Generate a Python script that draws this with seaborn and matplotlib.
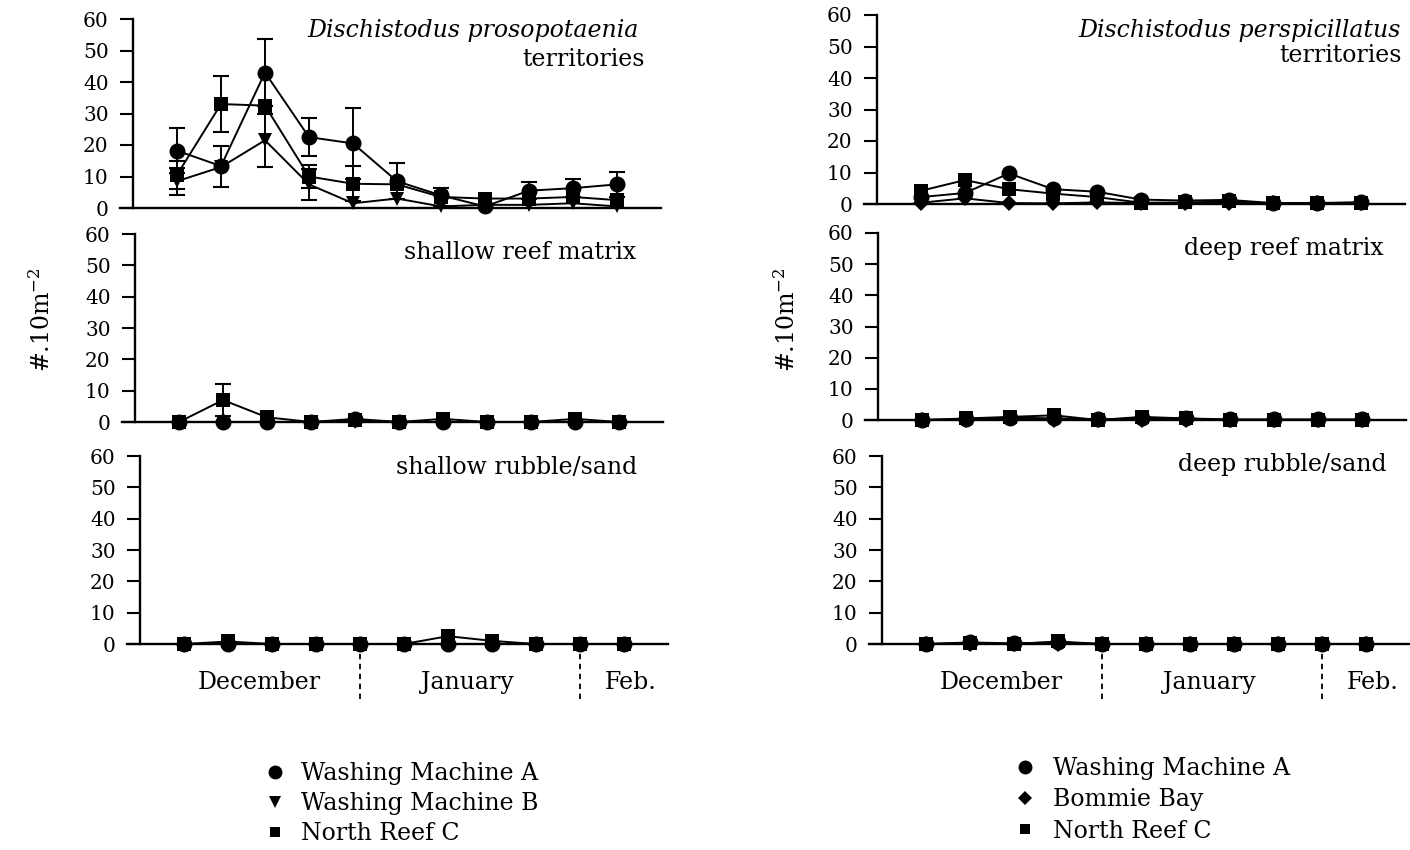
import numpy as np
import pandas as pd
import matplotlib
matplotlib.use("Agg")
import matplotlib.pyplot as plt
from matplotlib.lines import Line2D
import seaborn as sns

sns.set_theme(style="ticks")
plt.rcParams["font.family"] = ["DejaVu Serif"]
plt.rcParams["mathtext.fontset"] = "dejavuserif"
for key in ("text.color", "axes.labelcolor", "xtick.color", "ytick.color", "axes.edgecolor"):
    plt.rcParams[key] = "black"

# sampling occasions (roughly weekly, Dec - Feb)
days = list(range(1, 12))
month_names = ["December", "January", "Feb."]
month_breaks = [5, 10]

# ---- Dischistodus prosopotaenia (#.10m^-2, mean +/- SE) ----
pro_terr_wma = [18.2, 13.3, 43.0, 22.5, 20.5, 8.5, 4.0, 0.5, 5.5, 6.3, 7.5]
pro_terr_wma_se = [7.2, 6.5, 10.5, 6.0, 11.3, 5.8, 0.0, 0.0, 2.7, 2.8, 4.0]
pro_terr_wmb = [8.5, 13.0, 21.5, 7.5, 1.5, 3.0, 0.5, 1.0, 1.0, 1.5, 0.5]
pro_terr_wmb_se = [4.3, 0.0, 8.5, 5.0, 0.0, 0.0, 0.0, 0.0, 0.0, 0.0, 0.0]
pro_terr_nrc = [10.5, 33.0, 32.5, 10.0, 7.7, 7.5, 3.5, 3.0, 3.0, 3.5, 2.5]
pro_terr_nrc_se = [4.5, 8.8, 0.0, 3.5, 5.5, 0.0, 2.8, 0.0, 0.0, 0.0, 0.0]

pro_shreef_wma = [0, 0, 0, 0, 1.0, 0, 0, 0, 0, 0, 0]
pro_shreef_wmb = [0, 0, 0, 0, 0, 0, 0, 0, 0, 0, 0]
pro_shreef_nrc = [0, 7.0, 1.5, 0, 0.5, 0, 1.0, 0, 0, 1.0, 0]
pro_shreef_nrc_se = [0, 5.2, 0, 0, 0, 0, 0, 0, 0, 0, 0]

pro_shrub_wma = [0, 0, 0, 0, 0, 0, 0, 0, 0, 0, 0]
pro_shrub_wmb = [0, 0, 0, 0, 0, 0, 0, 0, 0, 0, 0]
pro_shrub_nrc = [0, 0.8, 0, 0, 0, 0, 2.5, 1.0, 0, 0, 0]

# ---- Dischistodus perspicillatus ----
per_terr_wma = [2.2, 3.5, 9.7, 4.7, 3.9, 1.4, 1.1, 1.3, 0.3, 0.3, 0.6]
per_terr_bb = [0.4, 1.8, 0.3, 0.2, 0.5, 0.3, 0.3, 0.3, 0.2, 0.2, 0.3]
per_terr_nrc = [4.2, 7.6, 4.7, 3.3, 2.2, 0.4, 0.5, 0.8, 0.2, 0.2, 0.3]

per_dpreef_wma = [0, 0.3, 0.8, 0.5, 0.2, 0.5, 0.5, 0.2, 0.2, 0.2, 0.2]
per_dpreef_bb = [0, 0, 0.5, 0, 0, 0, 0, 0, 0, 0, 0]
per_dpreef_nrc = [0, 0.5, 1.0, 1.5, 0, 1.0, 0.5, 0, 0, 0, 0]

per_dprub_wma = [0, 0.5, 0.2, 0.5, 0, 0, 0, 0, 0, 0, 0]
per_dprub_bb = [0, 0, 0, 0, 0, 0, 0, 0, 0, 0, 0]
per_dprub_nrc = [0, 0.3, 0, 0.8, 0, 0, 0, 0, 0, 0, 0]

site_markers = {
    "Washing Machine A": ("o", 11.5),
    "Washing Machine B": ("v", 10.5),
    "North Reef C": ("s", 9.5),
    "Bommie Bay": ("D", 8.0),
}

FS = 17
W, H = 1410, 850
fig = plt.figure(figsize=(W / 100, H / 100), dpi=100)
fig.patch.set_facecolor("white")

PX_PER_DAY = 44.0
XMIN, XMAX = -0.3, 12.0


def add_panel(axis_px, y0_px, y60_px):
    left = (axis_px + XMIN * PX_PER_DAY) / W
    width = (XMAX - XMIN) * PX_PER_DAY / W
    bottom = 1 - y0_px / H
    height = (y0_px - y60_px) / H
    ax = fig.add_axes([left, bottom, width, height])
    ax.set_facecolor("none")
    return ax


def draw_panel(ax, series, errors=None):
    errors = errors or {}
    frames = [pd.DataFrame({"day": days, "density": v, "site": k}) for k, v in series.items()]
    df = pd.concat(frames, ignore_index=True)
    for site, sub in df.groupby("site", sort=False):
        m, ms = site_markers[site]
        sns.lineplot(data=sub, x="day", y="density", marker=m, markersize=ms,
                     markeredgewidth=0, color="black", linewidth=1.4,
                     clip_on=False, ax=ax, legend=False)
        if site in errors:
            se = np.asarray(errors[site], dtype=float)
            vals = np.asarray(sub["density"], dtype=float)
            keep = se > 0
            ax.errorbar(np.asarray(days)[keep], vals[keep], yerr=se[keep], fmt="none",
                        ecolor="black", elinewidth=1.4, capsize=6, capthick=1.5,
                        clip_on=False)
    ax.set_xlim(XMIN, XMAX)
    ax.set_ylim(0, 60)
    ax.set_xlabel("")
    ax.set_ylabel("")
    ax.set_xticks([])
    ax.set_yticks(range(0, 61, 10))
    ax.tick_params(axis="y", direction="out", length=9.5, width=1.5, pad=8,
                   colors="black", labelsize=14.5)
    for lbl in ax.get_yticklabels():
        lbl.set_fontfamily("DejaVu Sans")
        lbl.set_fontsize(14.5)
    ax.spines["left"].set_position(("data", 0))
    ax.spines[["top", "right"]].set_visible(False)
    for s in ("left", "bottom"):
        ax.spines[s].set_linewidth(1.7)
        ax.spines[s].set_color("black")
    ax.grid(False)


def month_axis(ax):
    for x, name in zip([2.7, 7.45, 11.15], month_names):
        ax.text(x, -12.2, name, ha="center", va="center", fontsize=FS, clip_on=False)
    ax.vlines(month_breaks, -17.5, 0, colors="black", linestyles=(0, (3, 2.5)),
              linewidth=1.3, clip_on=False)


# ---------------- left column ----------------
ax_tl = add_panel(133, 208, 19)
draw_panel(ax_tl,
           {"Washing Machine B": pro_terr_wmb, "North Reef C": pro_terr_nrc,
            "Washing Machine A": pro_terr_wma},
           {"Washing Machine B": pro_terr_wmb_se, "North Reef C": pro_terr_nrc_se,
            "Washing Machine A": pro_terr_wma_se})
ax_tl.text(11.5, 56.5, "Dischistodus prosopotaenia", style="italic", ha="right",
           va="center", fontsize=FS)
ax_tl.text(11.64, 47, "territories", ha="right", va="center", fontsize=FS)

ax_ml = add_panel(135, 422, 234)
draw_panel(ax_ml,
           {"Washing Machine B": pro_shreef_wmb, "North Reef C": pro_shreef_nrc,
            "Washing Machine A": pro_shreef_wma},
           {"North Reef C": pro_shreef_nrc_se})
ax_ml.text(11.4, 54, "shallow reef matrix", ha="right", va="center", fontsize=FS)

ax_bl = add_panel(140, 644, 456)
draw_panel(ax_bl,
           {"Washing Machine B": pro_shrub_wmb, "North Reef C": pro_shrub_nrc,
            "Washing Machine A": pro_shrub_wma})
ax_bl.text(11.3, 56.2, "shallow rubble/sand", ha="right", va="center", fontsize=FS)
month_axis(ax_bl)

# ---------------- right column ----------------
ax_tr = add_panel(877, 204, 15)
draw_panel(ax_tr,
           {"Bommie Bay": per_terr_bb, "North Reef C": per_terr_nrc,
            "Washing Machine A": per_terr_wma})
ax_tr.text(11.9, 55.2, "Dischistodus perspicillatus", style="italic", ha="right",
           va="center", fontsize=FS)
ax_tr.text(11.93, 47.3, "territories", ha="right", va="center", fontsize=FS)

ax_mr = add_panel(878, 420, 233)
draw_panel(ax_mr,
           {"Bommie Bay": per_dpreef_bb, "North Reef C": per_dpreef_nrc,
            "Washing Machine A": per_dpreef_wma})
ax_mr.text(11.48, 55.1, "deep reef matrix", ha="right", va="center", fontsize=FS)

ax_br = add_panel(882, 644, 456)
draw_panel(ax_br,
           {"Bommie Bay": per_dprub_bb, "North Reef C": per_dprub_nrc,
            "Washing Machine A": per_dprub_wma})
ax_br.text(11.48, 57.2, "deep rubble/sand", ha="right", va="center", fontsize=FS)
month_axis(ax_br)

# y-axis labels
ylab = "#.10m$^{-2}$"
fig.text(42 / W, 1 - 320 / H, ylab, rotation=90, ha="center", va="center", fontsize=FS)
fig.text(787 / W, 1 - 320 / H, ylab, rotation=90, ha="center", va="center", fontsize=FS)


# legends
def legend_handles(names, sizes):
    return [Line2D([], [], linestyle="none", marker=site_markers[n][0], markersize=s,
                   markeredgewidth=0, color="black") for n, s in zip(names, sizes)]


left_names = ["Washing Machine A", "Washing Machine B", "North Reef C"]
fig.legend(legend_handles(left_names, [10, 8.5, 7.5]), left_names,
           loc="upper left", bbox_to_anchor=(263 / W, 1 - 762 / H), frameon=False,
           fontsize=FS, handlelength=1.0, handletextpad=0.63, labelspacing=0.3,
           borderpad=0, borderaxespad=0)

right_names = ["Washing Machine A", "Bommie Bay", "North Reef C"]
fig.legend(legend_handles(right_names, [10, 7, 7.5]), right_names,
           loc="upper left", bbox_to_anchor=(1013 / W, 1 - 757 / H), frameon=False,
           fontsize=FS, handlelength=1.0, handletextpad=0.68, labelspacing=0.35,
           borderpad=0, borderaxespad=0)

fig.savefig("out.png", dpi=100, facecolor="white")
